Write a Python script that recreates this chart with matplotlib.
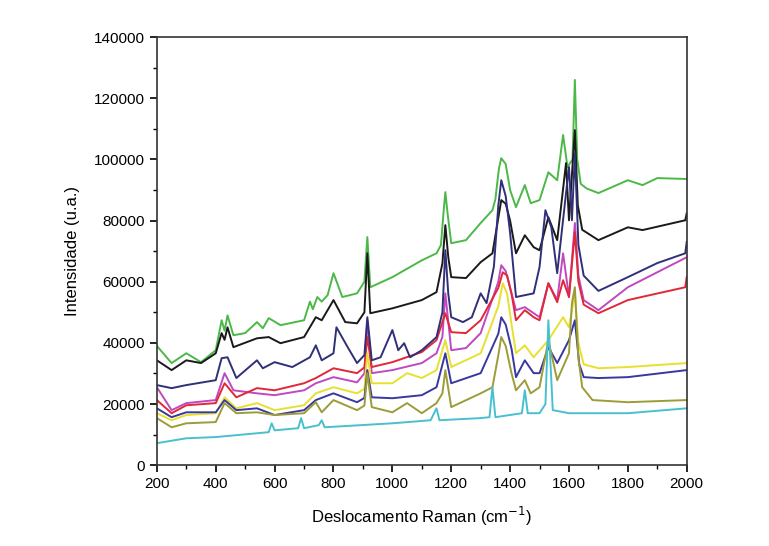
import numpy as np
import matplotlib.pyplot as plt
from matplotlib.ticker import MultipleLocator

plt.rcParams['font.family'] = ['Liberation Sans', 'DejaVu Sans']

# spectra (wavenumber, intensity)
green_x = [200, 250, 300, 350, 400, 420, 430, 440, 460, 500, 540, 560, 580, 620, 700, 720, 730, 745, 760, 780, 800, 830, 880, 905, 915, 925, 1000, 1100, 1150, 1165, 1175, 1180, 1188, 1200, 1250, 1300, 1340, 1350, 1362, 1370, 1385, 1400, 1420, 1450, 1470, 1500, 1530, 1560, 1580, 1595, 1612, 1620, 1628, 1640, 1660, 1700, 1800, 1850, 1900, 2000]
green_y = [39000, 33400, 36600, 33700, 37600, 47400, 44000, 49000, 42500, 43200, 46800, 44800, 48100, 45800, 47400, 53500, 51000, 55000, 53500, 55600, 62800, 55000, 56200, 60000, 74600, 58200, 61500, 67000, 69300, 72000, 84000, 89300, 82000, 72600, 73600, 79200, 83400, 87000, 97000, 100400, 98500, 90000, 84400, 91600, 85700, 86700, 95800, 93200, 108000, 97500, 100000, 126000, 100000, 92000, 90500, 89000, 93200, 91600, 93900, 93600]

black_x = [200, 250, 300, 350, 400, 420, 430, 440, 460, 540, 580, 620, 700, 740, 760, 800, 840, 880, 905, 915, 925, 1000, 1100, 1150, 1170, 1180, 1190, 1200, 1250, 1300, 1340, 1355, 1370, 1385, 1400, 1420, 1450, 1480, 1500, 1530, 1560, 1590, 1600, 1620, 1630, 1645, 1700, 1800, 1850, 1995, 2000]
black_y = [34300, 31100, 34300, 33400, 36600, 43200, 41000, 45100, 38600, 41500, 41900, 39900, 41900, 48400, 47400, 54000, 46800, 46400, 50000, 69300, 49700, 51300, 54000, 56600, 66000, 78500, 68000, 61500, 61200, 66400, 69300, 78000, 86700, 85500, 80000, 69300, 75200, 71300, 70300, 81100, 73600, 98800, 80100, 109600, 85000, 77000, 73600, 77800, 76900, 80100, 82400]

navy_x = [200, 250, 300, 400, 420, 440, 470, 540, 560, 600, 660, 720, 740, 760, 800, 810, 850, 880, 905, 915, 930, 960, 1000, 1020, 1040, 1060, 1100, 1150, 1170, 1180, 1190, 1200, 1240, 1270, 1300, 1320, 1345, 1360, 1370, 1385, 1400, 1420, 1480, 1500, 1520, 1540, 1560, 1590, 1600, 1610, 1620, 1632, 1650, 1700, 1800, 1900, 1995, 2000]
navy_y = [26200, 25200, 26200, 27800, 35000, 35300, 28500, 34300, 31700, 33700, 32100, 35300, 39200, 34300, 36600, 45100, 38300, 33400, 36000, 48400, 34300, 35300, 44200, 37600, 39900, 35300, 37600, 41900, 50000, 70300, 56000, 48400, 46800, 48400, 56200, 53000, 65000, 85000, 93200, 88000, 76000, 55000, 56200, 64800, 83400, 77800, 62800, 89000, 97500, 80100, 102000, 72000, 62000, 57000, 61500, 66100, 69300, 73000]

magenta_x = [200, 250, 300, 400, 430, 460, 540, 600, 700, 740, 800, 880, 905, 915, 930, 1000, 1100, 1150, 1170, 1180, 1200, 1250, 1300, 1360, 1370, 1385, 1400, 1420, 1450, 1500, 1530, 1560, 1580, 1600, 1620, 1632, 1650, 1700, 1800, 2000]
magenta_y = [25500, 18000, 20300, 21300, 30100, 24500, 23500, 22900, 24500, 26800, 28800, 27100, 30000, 47400, 30100, 31100, 33400, 36600, 42000, 56200, 37600, 38300, 43200, 60000, 65400, 63500, 58000, 50700, 51700, 48400, 59500, 54000, 69300, 55000, 79200, 62000, 54000, 50700, 58200, 68000]

red_x = [200, 250, 300, 400, 430, 470, 540, 600, 700, 740, 800, 880, 905, 915, 930, 1000, 1100, 1150, 1180, 1200, 1250, 1300, 1360, 1375, 1390, 1405, 1420, 1450, 1480, 1500, 1530, 1560, 1580, 1600, 1620, 1632, 1650, 1700, 1800, 1995, 2000]
red_y = [21300, 17000, 19600, 20300, 26800, 22200, 25200, 24500, 26800, 28500, 31700, 30100, 32000, 41900, 32100, 33700, 37000, 40900, 49700, 43500, 43200, 47400, 58000, 63100, 62000, 56000, 47400, 50700, 48400, 47400, 59500, 53300, 60500, 55000, 76200, 60000, 52500, 49700, 54000, 58200, 61500]

yellow_x = [200, 250, 300, 400, 430, 470, 540, 600, 700, 740, 800, 880, 905, 915, 930, 1000, 1050, 1100, 1150, 1180, 1200, 1300, 1360, 1375, 1390, 1405, 1420, 1450, 1480, 1530, 1580, 1600, 1620, 1632, 1650, 1700, 1800, 2000]
yellow_y = [17000, 14700, 16400, 17000, 22200, 18600, 20300, 18000, 19600, 23500, 25500, 23500, 25000, 36600, 26800, 26800, 30100, 28500, 31100, 40900, 32100, 36600, 52000, 59500, 56000, 46000, 36600, 39200, 35300, 40900, 48400, 45100, 56200, 40000, 33000, 31700, 32100, 33400]

blue_x = [200, 250, 300, 400, 430, 470, 540, 600, 700, 740, 800, 880, 905, 915, 930, 1000, 1100, 1150, 1180, 1200, 1300, 1360, 1370, 1385, 1405, 1420, 1450, 1480, 1500, 1530, 1560, 1600, 1620, 1635, 1650, 1700, 1800, 2000]
blue_y = [18600, 15700, 17300, 17300, 21300, 18000, 18600, 16400, 18000, 21300, 23500, 20600, 22000, 31100, 22200, 21900, 22900, 25500, 36600, 26800, 30100, 43000, 48400, 46000, 38000, 28800, 34300, 30100, 30100, 38600, 33400, 40900, 47400, 33000, 28800, 28500, 28800, 31100]

olive_x = [200, 250, 300, 400, 430, 470, 540, 600, 700, 740, 760, 800, 880, 905, 915, 930, 1000, 1050, 1100, 1150, 1170, 1180, 1200, 1300, 1340, 1360, 1370, 1385, 1405, 1420, 1450, 1470, 1500, 1530, 1560, 1600, 1610, 1620, 1632, 1645, 1680, 1800, 2000]
olive_y = [15400, 12400, 13700, 14100, 20300, 17000, 17300, 16400, 17000, 20600, 17300, 21300, 18000, 19500, 30100, 19000, 17300, 20300, 17000, 20300, 23500, 31100, 19000, 23500, 25500, 36000, 41900, 39000, 30000, 24500, 27800, 23500, 25500, 40900, 27800, 36600, 53000, 58200, 35000, 25500, 21300, 20600, 21300]

cyan_x = [200, 300, 400, 580, 590, 600, 680, 690, 700, 750, 760, 770, 1000, 1130, 1150, 1160, 1300, 1330, 1340, 1350, 1440, 1450, 1460, 1500, 1520, 1530, 1545, 1600, 1800, 2000]
cyan_y = [7200, 8800, 9200, 10800, 13700, 11400, 12100, 15400, 12100, 13100, 14700, 12400, 13700, 14700, 18600, 14700, 15400, 15700, 25500, 15700, 17000, 24500, 17000, 17000, 20000, 47400, 18000, 17000, 17000, 18600]

series = [
    (green_x, green_y, '#4cb848'),
    (black_x, black_y, '#1a1a1a'),
    (magenta_x, magenta_y, '#c048c0'),
    (red_x, red_y, '#e02838'),
    (yellow_x, yellow_y, '#e8e030'),
    (blue_x, blue_y, '#3838a0'),
    (navy_x, navy_y, '#303078'),
    (olive_x, olive_y, '#9c9c38'),
    (cyan_x, cyan_y, '#48c0d0'),
]

fig = plt.figure(figsize=(7.69, 5.46), dpi=100)
ax = fig.add_axes([0.204, 0.148, 0.689, 0.784])

for xs, ys, c in series:
    ax.plot(xs, ys, color=c, lw=1.4)

ax.set_xlim(200, 2000)
ax.set_ylim(0, 140000)
ax.xaxis.set_major_locator(MultipleLocator(200))
ax.xaxis.set_minor_locator(MultipleLocator(100))
ax.yaxis.set_major_locator(MultipleLocator(20000))
ax.yaxis.set_minor_locator(MultipleLocator(10000))
ax.tick_params(which='major', direction='out', length=5, width=1.2, labelsize=11)
ax.tick_params(which='minor', direction='out', length=3, width=1.0)
for s in ax.spines.values():
    s.set_linewidth(1.2)
    s.set_color('#333333')

ax.set_xlabel('Deslocamento Raman (cm$^{-1}$)', fontsize=12, labelpad=10)
ax.set_ylabel('Intensidade (u.a.)', fontsize=12, labelpad=10)

fig.savefig('out.png', dpi=100)
